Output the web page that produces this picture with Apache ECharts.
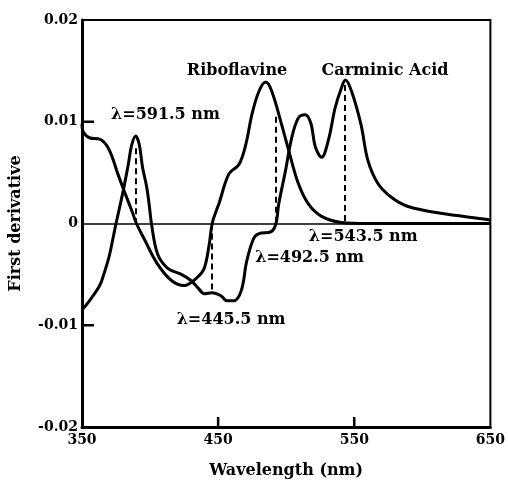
<!DOCTYPE html>
<html>
<head>
    <meta charset="utf-8">
    <title>First derivative spectra</title>
    <script src="https://cdn.jsdelivr.net/npm/echarts@6/dist/echarts.min.js"></script>
</head>
<body style="margin:0;background:#fff;">
    <div id="main" style="width:508px;height:484px;"></div>
    <script type="text/javascript">
    // data
    var riboX = [350, 351, 356, 363, 368, 372, 376, 381, 387, 390, 396, 405.5, 415.7, 425, 434.7, 439.8, 443.4, 445.6, 448.5, 450.7, 458, 465.3, 470.4, 474.8, 480, 485, 489.4, 496.7, 501.8, 509, 516.4, 526, 540.5, 560, 600, 650];
    var riboY = [0.0098, 0.0090, 0.0084, 0.0083, 0.0077, 0.0066, 0.0050, 0.0032, 0.0011, 0, -0.0016, -0.0040, -0.0056, -0.0061, -0.0053, -0.0044, -0.0021, 0, 0.0012, 0.0020, 0.0049, 0.0058, 0.0078, 0.0107, 0.0130, 0.0139, 0.0130, 0.0097, 0.0072, 0.0039, 0.0019, 0.0007, 0.0001, 0, 0, 0];

    var carmX = [350, 356, 363, 366, 370, 373, 375, 378, 381, 384, 386.5, 389.4, 392, 394.5, 397.5, 399.5, 401, 405.5, 413, 423, 430, 435, 440, 445.5, 452, 456.5, 461.5, 467, 471, 476, 480, 489, 492.5, 494.5, 499.5, 504, 509, 514, 518, 521.5, 526, 531, 536, 540.5, 543.5, 548, 555, 560, 567.5, 577, 589, 613.5, 648, 650];
    var carmY = [-0.0085, -0.0075, -0.0061, -0.0050, -0.0032, -0.0013, 0, 0.0018, 0.0037, 0.0058, 0.0077, 0.0086, 0.0078, 0.0055, 0.0036, 0.0017, 0, -0.0030, -0.0044, -0.0050, -0.0056, -0.0063, -0.0069, -0.0068, -0.0071, -0.0076, -0.0076, -0.0066, -0.0037, -0.0015, -0.0010, -0.0008, 0, 0.0019, 0.0052, 0.0084, 0.0104, 0.0107, 0.0099, 0.0075, 0.0065, 0.0082, 0.0114, 0.0133, 0.0141, 0.0130, 0.0097, 0.0062, 0.0039, 0.0026, 0.0017, 0.0010, 0.0004, 0.0003];

    // dashed drop lines: wavelength, from, to
    var dropX = [389.4, 445.6, 492.3, 543.2];
    var dropFrom = [0.0074, 0, 0.0105, 0.0136];
    var dropTo = [0, -0.0066, 0, 0];

    var xTicks = [350, 450, 550, 650];
    var yTicks = ['-0.02', '-0.01', '0', '0.01', '0.02'];
    // inner tick marks drawn on the frame
    var xInnerTicks = [450, 550];
    var yInnerTicks = [0.01, -0.01];

    function zip(xs, ys) {
        return xs.map(function (x, i) { return [x, ys[i]]; });
    }

    var font = 'DejaVu Serif';
    // annotation text and where it sits (data coords, centred)
    var notes = [
        ['Riboflavine', 463.9, 0.0150],
        ['Carminic Acid', 572.6, 0.0150],
        ['\u03bb=591.5 nm', 411.3, 0.0107],
        ['\u03bb=543.5 nm', 556.6, -0.0013],
        ['\u03bb=492.5 nm', 517.2, -0.0034],
        ['\u03bb=445.5 nm', 459.5, -0.0095]
    ];

    var drops = dropX.map(function (x, i) {
        return [{ coord: [x, dropFrom[i]] }, { coord: [x, dropTo[i]] }];
    });

    var myChart = echarts.init(document.getElementById('main'));
    var option = {
        animation: false,
        grid: { left: 82, right: 15, top: 20, bottom: 52, show: true, borderColor: '#000', borderWidth: 2 },
        xAxis: {
            type: 'value', min: 350, max: 650, interval: 100,
            name: 'Wavelength (nm)', nameLocation: 'middle', nameGap: 36,
            nameTextStyle: { fontFamily: font, fontWeight: 'bold', fontSize: 16, color: '#000' },
            axisLine: { show: true, onZero: false, lineStyle: { color: '#000', width: 3 } },
            axisTick: { show: false },
            axisLabel: {
                fontFamily: font, fontWeight: 'bold', fontSize: 14, color: '#000', margin: 6,
                formatter: function (v) { return xTicks.indexOf(v) >= 0 ? String(v) : ''; }
            },
            splitLine: { show: false }
        },
        yAxis: {
            type: 'value', min: -0.02, max: 0.02, interval: 0.01,
            name: 'First derivative', nameLocation: 'middle', nameGap: 58,
            nameTextStyle: { fontFamily: font, fontWeight: 'bold', fontSize: 16, color: '#000' },
            axisLine: { show: true, onZero: false, lineStyle: { color: '#000', width: 3 } },
            axisTick: { show: false },
            axisLabel: {
                fontFamily: font, fontWeight: 'bold', fontSize: 14, color: '#000', margin: 4,
                formatter: function (v) { return yTicks[Math.round(v * 100) + 2]; }
            },
            splitLine: { show: false }
        },
        series: [
            {
                name: 'Riboflavine', type: 'line', data: zip(riboX, riboY),
                smooth: 0.35, showSymbol: false,
                lineStyle: { color: '#000', width: 3 },
                markLine: {
                    silent: true, symbol: 'none', label: { show: false },
                    lineStyle: { color: '#000', width: 1.5, type: 'solid' },
                    data: [{ yAxis: 0 }]
                }
            },
            {
                name: 'Carminic Acid', type: 'line', data: zip(carmX, carmY),
                smooth: 0.35, showSymbol: false,
                lineStyle: { color: '#000', width: 3 },
                markLine: {
                    silent: true, symbol: 'none', label: { show: false },
                    lineStyle: { color: '#000', width: 2, type: [6, 4] },
                    data: drops
                }
            }
        ]
    };
    myChart.setOption(option);

    // annotations and inner ticks, placed through the chart's own scales
    var px = function (v) { return myChart.convertToPixel({ gridIndex: 0 }, v); };
    var graphics = notes.map(function (n) {
        var p = px([n[1], n[2]]);
        return {
            type: 'text', x: p[0], y: p[1], silent: true,
            style: {
                text: n[0], fill: '#000', align: 'center', verticalAlign: 'middle',
                font: 'bold 16px "DejaVu Serif"'
            }
        };
    });
    xInnerTicks.forEach(function (t) {
        var p = px([t, -0.02]);
        graphics.push({ type: 'line', silent: true, z: 100, shape: { x1: p[0], y1: p[1], x2: p[0], y2: p[1] - 10 }, style: { stroke: '#000', lineWidth: 2.5 } });
    });
    yInnerTicks.forEach(function (t) {
        var p = px([350, t]);
        graphics.push({ type: 'line', silent: true, z: 100, shape: { x1: p[0], y1: p[1], x2: p[0] + 12, y2: p[1] }, style: { stroke: '#000', lineWidth: 2.5 } });
    });
    myChart.setOption({ graphic: graphics });
    </script>
</body>
</html>
